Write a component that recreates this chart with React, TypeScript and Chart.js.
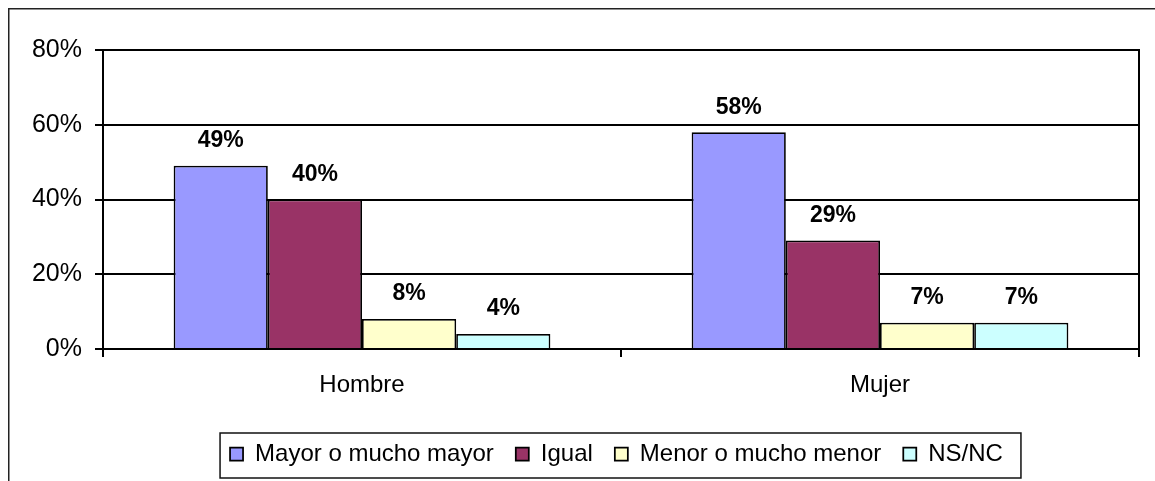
import React, { useEffect, useRef } from "react";
import { Chart, registerables } from "chart.js";

Chart.register(...registerables);

const categories = ["Hombre", "Mujer"];
const seriesNames = ["Mayor o mucho mayor", "Igual", "Menor o mucho menor", "NS/NC"];
const mayor = [49, 58];
const igual = [40, 29];
const menor = [8, 7];
const nsnc = [4, 7];
const seriesValues = [mayor, igual, menor, nsnc];
const seriesColors = ["#9999FF", "#993366", "#FFFFCC", "#CCFFFF"];
const yMin = 0;
const yMax = 80;
const yStep = 20;

const FONT = "'Liberation Sans', Arial, sans-serif";

const framePlugin = {
  id: "frame",
  afterDraw(chart: any) {
    const ctx = chart.ctx;
    ctx.save();
    ctx.strokeStyle = "#222";
    ctx.lineWidth = 1.5;
    ctx.beginPath();
    ctx.moveTo(0.75, chart.height);
    ctx.lineTo(0.75, 0.75);
    ctx.lineTo(chart.width, 0.75);
    ctx.stroke();
    ctx.restore();
  },
};

const legendBorderPlugin = {
  id: "legendBorder",
  afterDraw(chart: any) {
    const lg = chart.legend;
    if (!lg || !lg.legendHitBoxes || !lg.legendHitBoxes.length) return;
    const boxes = lg.legendHitBoxes;
    let l = Infinity, r = -Infinity, t = Infinity, b = -Infinity;
    boxes.forEach((h: any) => {
      l = Math.min(l, h.left);
      r = Math.max(r, h.left + h.width);
      t = Math.min(t, h.top);
      b = Math.max(b, h.top + h.height);
    });
    const ctx = chart.ctx;
    ctx.save();
    ctx.strokeStyle = "#111";
    ctx.lineWidth = 1.5;
    ctx.strokeRect(l - 10, t - 9, r - l + 28, b - t + 21);
    ctx.restore();
  },
};

const dataLabelPlugin = {
  id: "dataLabels",
  afterDatasetsDraw(chart: any) {
    const ctx = chart.ctx;
    ctx.save();
    ctx.font = `bold 23px ${FONT}`;
    ctx.fillStyle = "#000";
    ctx.textAlign = "center";
    ctx.textBaseline = "middle";
    chart.data.datasets.forEach((ds: any, di: number) => {
      const meta = chart.getDatasetMeta(di);
      meta.data.forEach((el: any, i: number) => {
        ctx.fillText(`${ds.data[i]}%`, el.x, el.y - 25);
      });
    });
    ctx.restore();
  },
};

export default function App() {
  const ref = useRef<HTMLCanvasElement | null>(null);
  useEffect(() => {
    if (!ref.current) return;
    Chart.defaults.font.family = FONT;
    Chart.defaults.color = "#000";
    const chart = new Chart(ref.current, {
      type: "bar",
      data: {
        labels: categories,
        datasets: seriesNames.map((name, i) => ({
          label: name,
          data: seriesValues[i],
          backgroundColor: seriesColors[i],
          borderColor: "#000",
          borderWidth: 1.75,
          categoryPercentage: 4 / 5.5,
          barPercentage: 1,
          yAxisID: "y",
        })),
      },
      options: {
        animation: false,
        responsive: true,
        maintainAspectRatio: false,
        devicePixelRatio: 1,
        layout: { padding: { top: 42, left: 0, right: 0, bottom: 5 } },
        plugins: {
          tooltip: { enabled: false },
          legend: {
            position: "bottom",
            align: "center",
            labels: {
              font: { size: 24, family: FONT },
              color: "#000",
              boxWidth: 13,
              boxHeight: 13,
              padding: 22,
            },
          },
        },
        scales: {
          x: {
            type: "category",
            position: "bottom",
            grid: {
              offset: true,
              drawOnChartArea: false,
              drawTicks: true,
              tickLength: 8,
              color: "#000",
              lineWidth: 2,
            },
            border: { display: true, color: "#000", width: 2 },
            ticks: { font: { size: 24, family: FONT }, color: "#000", padding: 14, maxRotation: 0 },
            afterFit(scale: any) {
              scale.height = 71;
            },
          },
          y: {
            position: "left",
            min: yMin,
            max: yMax,
            ticks: {
              stepSize: yStep,
              font: { size: 25, family: FONT },
              color: "#000",
              padding: 13,
              callback: (v: any) => `${v}%`,
            },
            grid: { color: "#000", lineWidth: 2, tickLength: 8, drawTicks: true },
            border: { display: true, color: "#000", width: 2 },
            afterFit(scale: any) {
              scale.width = 95;
            },
          },
          y2: {
            position: "right",
            display: true,
            min: yMin,
            max: yMax,
            grid: { display: false, drawTicks: false },
            ticks: { display: false },
            border: { display: true, color: "#000", width: 2 },
            afterFit(scale: any) {
              scale.width = 86;
            },
          },
        },
      },
      plugins: [framePlugin, legendBorderPlugin, dataLabelPlugin],
    } as any);
    return () => chart.destroy();
  }, []);

  return (
    <div
      style={{
        position: "absolute",
        left: 8,
        top: 8,
        width: 1147,
        height: 473,
        overflow: "hidden",
        background: "#fff",
      }}
    >
      <div style={{ position: "relative", width: 1217, height: 473 }}>
        <canvas ref={ref} />
      </div>
    </div>
  );
}
